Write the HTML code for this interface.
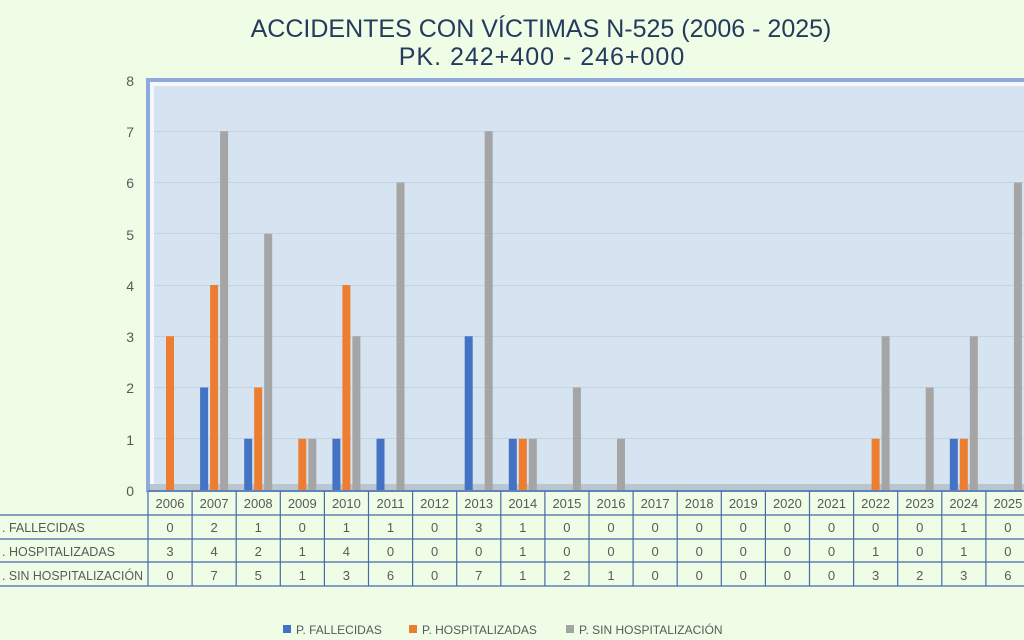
<!DOCTYPE html>
<html><head><meta charset="utf-8"><style>
html,body{margin:0;padding:0;background:#effde6;}
svg{display:block;font-family:"Liberation Sans",sans-serif;}
</style></head><body>
<svg width="1024" height="640" viewBox="0 0 1024 640" xmlns="http://www.w3.org/2000/svg">
<rect width="1024" height="640" fill="#effde6"/>
<text x="541" y="37" text-anchor="middle" font-size="25" fill="#243a5e">ACCIDENTES CON VÍCTIMAS N-525 (2006 - 2025)</text>
<text x="542" y="65" text-anchor="middle" font-size="25" letter-spacing="1" fill="#243a5e">PK. 242+400 - 246+000</text>
<rect x="146" y="78" width="880" height="414" fill="#8eaadb"/>
<rect x="150" y="82" width="876" height="408" fill="#f4f8fc"/>
<rect x="154" y="86" width="872" height="400" fill="#d6e4f1"/>
<rect x="150" y="484" width="876" height="6" fill="#b8c6d0"/>
<g stroke="#c5d3e0" stroke-width="1">
<line x1="154" y1="131.5" x2="1024" y2="131.5"/><line x1="154" y1="182.5" x2="1024" y2="182.5"/>
<line x1="154" y1="233.5" x2="1024" y2="233.5"/><line x1="154" y1="285.5" x2="1024" y2="285.5"/>
<line x1="154" y1="336.5" x2="1024" y2="336.5"/><line x1="154" y1="387.5" x2="1024" y2="387.5"/>
<line x1="154" y1="438.5" x2="1024" y2="438.5"/>
</g>
<g font-size="14" fill="#595959" text-anchor="end">
<text x="134" y="86">8</text><text x="134" y="137">7</text><text x="134" y="188">6</text>
<text x="134" y="240">5</text><text x="134" y="291">4</text><text x="134" y="342">3</text>
<text x="134" y="393">2</text><text x="134" y="445">1</text><text x="134" y="496">0</text>
</g>
<g fill="#4472c4">
<rect x="200.1" y="387.5" width="8" height="102.5"/><rect x="244.2" y="438.75" width="8" height="51.25"/>
<rect x="332.4" y="438.75" width="8" height="51.25"/><rect x="376.5" y="438.75" width="8" height="51.25"/>
<rect x="464.7" y="336.25" width="8" height="153.75"/><rect x="508.8" y="438.75" width="8" height="51.25"/>
<rect x="949.8" y="438.75" width="8" height="51.25"/>
</g>
<g fill="#ed7d31">
<rect x="166" y="336.25" width="8" height="153.75"/><rect x="210.1" y="285" width="8" height="205"/>
<rect x="254.2" y="387.5" width="8" height="102.5"/><rect x="298.3" y="438.75" width="8" height="51.25"/>
<rect x="342.4" y="285" width="8" height="205"/><rect x="518.8" y="438.75" width="8" height="51.25"/>
<rect x="871.6" y="438.75" width="8" height="51.25"/><rect x="959.8" y="438.75" width="8" height="51.25"/>
</g>
<g fill="#a5a5a5">
<rect x="220.1" y="131.25" width="8" height="358.75"/><rect x="264.2" y="233.75" width="8" height="256.25"/>
<rect x="308.3" y="438.75" width="8" height="51.25"/><rect x="352.4" y="336.25" width="8" height="153.75"/>
<rect x="396.5" y="182.5" width="8" height="307.5"/><rect x="484.7" y="131.25" width="8" height="358.75"/>
<rect x="528.8" y="438.75" width="8" height="51.25"/><rect x="572.9" y="387.5" width="8" height="102.5"/>
<rect x="617" y="438.75" width="8" height="51.25"/><rect x="881.6" y="336.25" width="8" height="153.75"/>
<rect x="925.7" y="387.5" width="8" height="102.5"/><rect x="969.8" y="336.25" width="8" height="153.75"/>
<rect x="1013.9" y="182.5" width="8" height="307.5"/>
</g>
<g stroke="#4a6aa8" stroke-width="1.2" fill="none">
<line x1="148" y1="491" x2="1024" y2="491"/>
<line x1="0" y1="515" x2="1024" y2="515"/><line x1="0" y1="539" x2="1024" y2="539"/>
<line x1="0" y1="562" x2="1024" y2="562"/><line x1="0" y1="586" x2="1024" y2="586"/>
<line x1="148" y1="491" x2="148" y2="586"/><line x1="192.1" y1="491" x2="192.1" y2="586"/>
<line x1="236.2" y1="491" x2="236.2" y2="586"/><line x1="280.3" y1="491" x2="280.3" y2="586"/>
<line x1="324.4" y1="491" x2="324.4" y2="586"/><line x1="368.5" y1="491" x2="368.5" y2="586"/>
<line x1="412.6" y1="491" x2="412.6" y2="586"/><line x1="456.7" y1="491" x2="456.7" y2="586"/>
<line x1="500.8" y1="491" x2="500.8" y2="586"/><line x1="544.9" y1="491" x2="544.9" y2="586"/>
<line x1="589" y1="491" x2="589" y2="586"/><line x1="633.1" y1="491" x2="633.1" y2="586"/>
<line x1="677.2" y1="491" x2="677.2" y2="586"/><line x1="721.3" y1="491" x2="721.3" y2="586"/>
<line x1="765.4" y1="491" x2="765.4" y2="586"/><line x1="809.5" y1="491" x2="809.5" y2="586"/>
<line x1="853.6" y1="491" x2="853.6" y2="586"/><line x1="897.7" y1="491" x2="897.7" y2="586"/>
<line x1="941.8" y1="491" x2="941.8" y2="586"/><line x1="985.9" y1="491" x2="985.9" y2="586"/>
</g>
<g font-size="12.5" fill="#595959">
<text x="2" y="532">. FALLECIDAS</text>
<text x="2" y="556">. HOSPITALIZADAS</text>
<text x="2" y="580" textLength="141" lengthAdjust="spacingAndGlyphs">. SIN HOSPITALIZACIÓN</text>
</g>
<g font-size="13" fill="#595959" text-anchor="middle">
<text y="508"><tspan x="170">2006</tspan><tspan x="214.1">2007</tspan><tspan x="258.2">2008</tspan><tspan x="302.3">2009</tspan><tspan x="346.4">2010</tspan><tspan x="390.5">2011</tspan><tspan x="434.6">2012</tspan><tspan x="478.7">2013</tspan><tspan x="522.8">2014</tspan><tspan x="566.9">2015</tspan><tspan x="611">2016</tspan><tspan x="655.1">2017</tspan><tspan x="699.2">2018</tspan><tspan x="743.3">2019</tspan><tspan x="787.4">2020</tspan><tspan x="831.5">2021</tspan><tspan x="875.6">2022</tspan><tspan x="919.7">2023</tspan><tspan x="963.8">2024</tspan><tspan x="1007.9">2025</tspan></text>
<text y="532"><tspan x="170">0</tspan><tspan x="214.1">2</tspan><tspan x="258.2">1</tspan><tspan x="302.3">0</tspan><tspan x="346.4">1</tspan><tspan x="390.5">1</tspan><tspan x="434.6">0</tspan><tspan x="478.7">3</tspan><tspan x="522.8">1</tspan><tspan x="566.9">0</tspan><tspan x="611">0</tspan><tspan x="655.1">0</tspan><tspan x="699.2">0</tspan><tspan x="743.3">0</tspan><tspan x="787.4">0</tspan><tspan x="831.5">0</tspan><tspan x="875.6">0</tspan><tspan x="919.7">0</tspan><tspan x="963.8">1</tspan><tspan x="1007.9">0</tspan></text>
<text y="556"><tspan x="170">3</tspan><tspan x="214.1">4</tspan><tspan x="258.2">2</tspan><tspan x="302.3">1</tspan><tspan x="346.4">4</tspan><tspan x="390.5">0</tspan><tspan x="434.6">0</tspan><tspan x="478.7">0</tspan><tspan x="522.8">1</tspan><tspan x="566.9">0</tspan><tspan x="611">0</tspan><tspan x="655.1">0</tspan><tspan x="699.2">0</tspan><tspan x="743.3">0</tspan><tspan x="787.4">0</tspan><tspan x="831.5">0</tspan><tspan x="875.6">1</tspan><tspan x="919.7">0</tspan><tspan x="963.8">1</tspan><tspan x="1007.9">0</tspan></text>
<text y="580"><tspan x="170">0</tspan><tspan x="214.1">7</tspan><tspan x="258.2">5</tspan><tspan x="302.3">1</tspan><tspan x="346.4">3</tspan><tspan x="390.5">6</tspan><tspan x="434.6">0</tspan><tspan x="478.7">7</tspan><tspan x="522.8">1</tspan><tspan x="566.9">2</tspan><tspan x="611">1</tspan><tspan x="655.1">0</tspan><tspan x="699.2">0</tspan><tspan x="743.3">0</tspan><tspan x="787.4">0</tspan><tspan x="831.5">0</tspan><tspan x="875.6">3</tspan><tspan x="919.7">2</tspan><tspan x="963.8">3</tspan><tspan x="1007.9">6</tspan></text>
</g>
<rect x="283" y="625" width="8" height="8" fill="#4472c4"/>
<rect x="409" y="625" width="8" height="8" fill="#ed7d31"/>
<rect x="566" y="625" width="8" height="8" fill="#a5a5a5"/>
<g font-size="12" fill="#595959">
<text x="296" y="634">P. FALLECIDAS</text>
<text x="422" y="634">P. HOSPITALIZADAS</text>
<text x="579" y="634">P. SIN HOSPITALIZACIÓN</text>
</g>
</svg>
</body></html>
